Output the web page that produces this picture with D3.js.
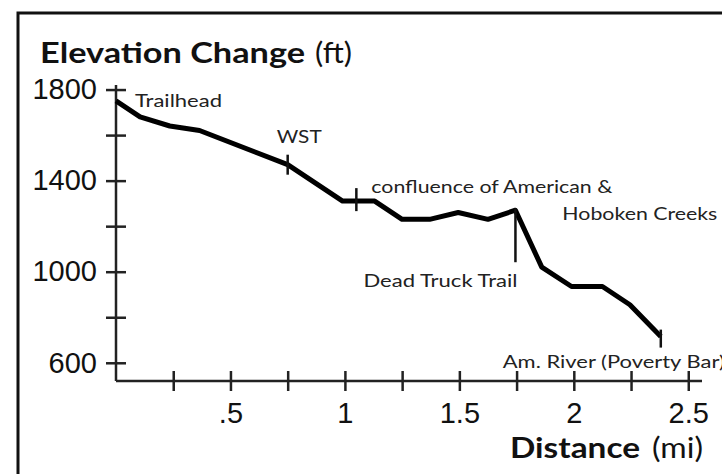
<!DOCTYPE html>
<html lang="en">
<head>
<meta charset="utf-8">
<title>Elevation Change</title>
<style>
  * { margin: 0; padding: 0; }
  body { background: #fff; }
  svg { display: block; font-family: Lato, "Open Sans", sans-serif; }
  .axis path, .axis line { stroke: #222; stroke-width: 2.5px; }
  .axis text { font-size: 29px; fill: #111; }
  .note { font-size: 18px; fill: #222; }
  .title { font-size: 29px; fill: #111; }
</style>
<script src="https://d3js.org/d3.v7.min.js"></script>
</head>
<body>
<svg width="722" height="474"></svg>
<script>
// trail profile
const miles = [0, 0.105, 0.235, 0.365, 0.75, 0.99, 1.13, 1.25, 1.37, 1.495, 1.625, 1.745, 1.86, 1.99, 2.125, 2.245, 2.38];
const feet  = [1750, 1680, 1640, 1620, 1470, 1310, 1310, 1230, 1230, 1260, 1230, 1270, 1020, 935, 935, 855, 715];

// named places along the trail
const placeNames = ["Trailhead", "WST", "confluence of American &", "Dead Truck Trail", "Am. River (Poverty Bar)"];
const placeMiles = [0, 0.75, 1.05, 1.745, 2.38];
const placeFeet  = [1750, 1470, 1310, 1270, 715];

// axis ticks
const xTicks = [0.25, 0.5, 0.75, 1, 1.25, 1.5, 1.75, 2, 2.25, 2.5];
const xTickLabels = ["", ".5", "", "1", "", "1.5", "", "2", "", "2.5"];
const yTicks = [600, 800, 1000, 1200, 1400, 1600, 1800];
const yTickLabels = ["600", "", "1000", "", "1400", "", "1800"];

const svg = d3.select("svg");

// frame round the chart (runs off the right and bottom edge)
svg.append("rect")
  .attr("x", 18).attr("y", 13)
  .attr("width", 760).attr("height", 500)
  .attr("fill", "#fff")
  .attr("stroke", "#111")
  .attr("stroke-width", 3);

const x = d3.scaleLinear().domain([0, 2.56]).range([116, 702]);
const y = d3.scaleLinear().domain([520, 1820]).range([381, 85]);

// x axis, ticks cross the line
const gx = svg.append("g")
  .attr("class", "axis")
  .attr("transform", `translate(0, ${y(520)})`)
  .call(d3.axisBottom(x)
    .tickValues(xTicks)
    .tickSize(10)
    .tickPadding(11)
    .tickFormat((d, i) => xTickLabels[i]));
gx.selectAll(".tick line").attr("y1", -10);
gx.select(".domain").attr("d", `M${x(0)},0H${x(2.56)}`);

// y axis
const gy = svg.append("g")
  .attr("class", "axis")
  .attr("transform", `translate(${x(0)}, 0)`)
  .call(d3.axisLeft(y)
    .tickValues(yTicks)
    .tickSize(10)
    .tickPadding(9)
    .tickFormat((d, i) => yTickLabels[i]));
gy.selectAll(".tick line").attr("x1", 10);
gy.select(".domain").attr("d", `M0,${y(1820)}V${y(520)}`);

// the profile line
const line = d3.line()
  .x(d => x(d[0]))
  .y(d => y(d[1]));

svg.append("path")
  .attr("d", line(d3.zip(miles, feet)))
  .attr("fill", "none")
  .attr("stroke", "#000")
  .attr("stroke-width", 5)
  .attr("stroke-linejoin", "round");

// markers on the line
const px = placeMiles.map(x);
const py = placeFeet.map(y);
const marks = svg.append("g").attr("stroke", "#111").attr("stroke-width", 2.5);
marks.append("line").attr("x1", px[1]).attr("x2", px[1]).attr("y1", py[1] - 10).attr("y2", py[1] + 10);
marks.append("line").attr("x1", px[2]).attr("x2", px[2]).attr("y1", py[2] - 13).attr("y2", py[2] + 10);
marks.append("line").attr("x1", px[3]).attr("x2", px[3]).attr("y1", py[3] - 2).attr("y2", py[3] + 52);
marks.append("line").attr("x1", px[4]).attr("x2", px[4]).attr("y1", py[4] - 7).attr("y2", py[4] + 11);

// the original lettering is wider than Lato, so stretch to its widths
function label(g, tx, ty, str, w) {
  return g.append("text")
    .attr("x", tx).attr("y", ty)
    .attr("textLength", w)
    .attr("lengthAdjust", "spacingAndGlyphs")
    .text(str);
}

const notes = svg.append("g").attr("class", "note");
label(notes, px[0] + 19, py[0] + 6, placeNames[0], 87);
label(notes, px[1] - 11, py[1] - 22, placeNames[1], 45);
label(notes, px[2] + 15, py[2] - 8, placeNames[2], 241);
label(notes, px[2] + 206, py[2] + 19, "Hoboken Creeks", 155);
label(notes, px[3] - 152, py[3] + 77, placeNames[3], 154);
label(notes, px[4] - 158, py[4] + 31, placeNames[4], 222);

// titles
const titles = svg.append("g").attr("class", "title");
label(titles, 40, 63, "Elevation Change", 265).attr("font-weight", 700);
label(titles, 315, 63, "(ft)", 37);
label(titles, 510, 458, "Distance", 130).attr("font-weight", 700);
label(titles, 652, 458, "(mi)", 51);
</script>
</body>
</html>
